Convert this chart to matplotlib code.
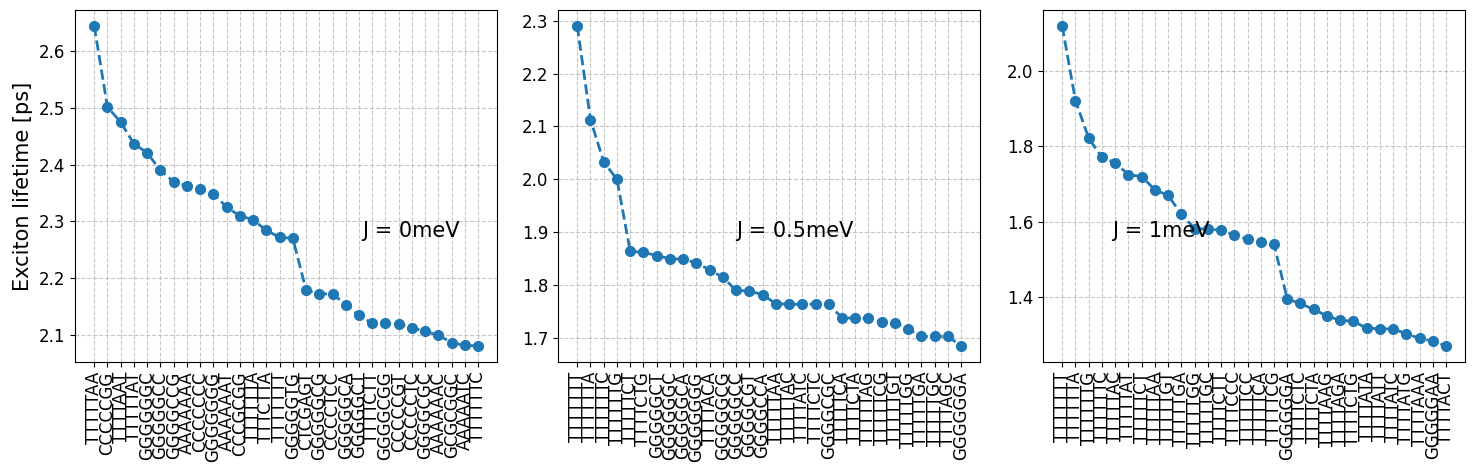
import matplotlib
matplotlib.use("Agg")
import matplotlib.pyplot as plt
import numpy as np

# sequences sorted by exciton lifetime, one panel per coupling J
labels_0 = ["TTTTTAA", "CCCCCGG", "TTTTAAT", "TTTTTAT", "GGGGGGC", "GGGGGCC",
            "GGGGCCG", "AAAAAAA", "CCCCCCC", "GGGGGGG", "AAAAAAT", "CCCGCGG",
            "TTTTTTA", "TTTCTTA", "TTTTTTT", "GGGGGTG", "CTCGAGT", "GGGGGCG",
            "CCCCTCC", "GGGGGCA", "GGGGGCT", "TTTTCTT", "GGGGCGG", "CCCCCGT",
            "CCCCCTC", "GGGGCGC", "AAAAAAC", "GCGCGGC", "AAAAATC", "TTTTTTC"]
life_0 = [2.645, 2.502, 2.475, 2.437, 2.421, 2.390, 2.370, 2.363, 2.357, 2.349,
          2.325, 2.310, 2.303, 2.284, 2.272, 2.270, 2.179, 2.172, 2.172, 2.153,
          2.134, 2.120, 2.120, 2.119, 2.112, 2.106, 2.099, 2.086, 2.081, 2.080]

labels_05 = ["TTTTTTT", "TTTTTTA", "TTTTTTC", "TTTTTTG", "TTTTTCT", "TTTTCTG",
             "GGGGGCT", "GGGGGGC", "GGGGGCA", "GGGGGGG", "TTTTACA", "GGGGGCG",
             "GGGGGCC", "GGGGCGT", "GGGGCCA", "TTTTTAA", "TTTTTAC", "TTTTATC",
             "TTTTCTC", "GGGGCGC", "TTTTTCA", "TTTTCTA", "TTTTTAG", "TTTTTCG",
             "TTTTTGT", "TTTTTGG", "TTTTTGA", "TTTTTGC", "TTTTAGC", "GGGGGGA"]
life_05 = [2.290, 2.113, 2.033, 2.000, 1.864, 1.862, 1.856, 1.850, 1.849, 1.842,
           1.829, 1.815, 1.790, 1.789, 1.782, 1.765, 1.764, 1.764, 1.764, 1.764,
           1.738, 1.738, 1.737, 1.730, 1.729, 1.717, 1.703, 1.703, 1.703, 1.685]

labels_1 = ["TTTTTTT", "TTTTTTA", "TTTTTTG", "TTTTTTC", "TTTTTAC", "TTTTTAT",
            "TTTTTCT", "TTTTTAA", "TTTTTGT", "TTTTTGA", "TTTTTGG", "TTTTTGC",
            "TTTTCTT", "TTTTCCC", "TTTTTCC", "TTTTTCA", "TTTTTCG", "GGGGGGA",
            "TTTTCTC", "TTTTCTA", "TTTTAAG", "TTTTAGA", "TTTTCTG", "TTTTATA",
            "TTTTATT", "TTTTATC", "TTTTATG", "TTTTAAA", "GGGGGAA", "TTTTACT"]
life_1 = [2.120, 1.922, 1.822, 1.771, 1.757, 1.725, 1.720, 1.685, 1.670, 1.620,
          1.582, 1.580, 1.578, 1.565, 1.553, 1.546, 1.540, 1.395, 1.383, 1.367,
          1.350, 1.338, 1.336, 1.317, 1.316, 1.315, 1.303, 1.290, 1.283, 1.270]

panels = [
    (labels_0, life_0, "J = 0meV", 0.68),
    (labels_05, life_05, "J = 0.5meV", 0.422),
    (labels_1, life_1, "J = 1meV", 0.163),
]

fig = plt.figure(figsize=(14.74, 4.75), dpi=100)
lefts = [0.0509, 0.3786, 0.7076]

for left, (labels, life, title, tx) in zip(lefts, panels):
    ax = fig.add_axes([left, 0.2379, 0.2865, 0.7411])
    x = np.arange(len(labels))
    ax.plot(x, life, "o--", color="tab:blue", lw=2, markersize=7)
    ax.set_xticks(x)
    ax.set_xticklabels(labels, rotation=90, fontsize=12)
    ax.tick_params(axis="y", labelsize=12)
    ax.grid(True, linestyle="--", alpha=0.7)
    ax.text(tx, 0.372, title, transform=ax.transAxes, fontsize=15, va="center")
    if left == lefts[0]:
        ax.set_ylabel("Exciton lifetime [ps]", fontsize=15)

fig.savefig("out.png", dpi=100)
